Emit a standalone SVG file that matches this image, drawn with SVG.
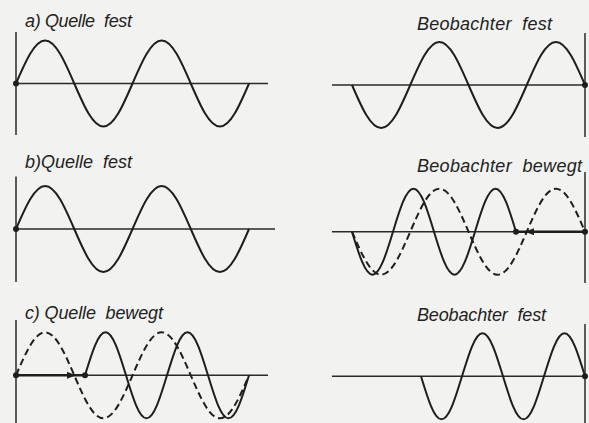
<svg xmlns="http://www.w3.org/2000/svg" width="589" height="423" viewBox="0 0 589 423">
<defs>
<style>
.bg{fill:#f2f2f0}
.ax{stroke:#2a2a2a;stroke-width:1.5;fill:none}
.w{stroke:#1e1e1e;stroke-width:2;fill:none;stroke-linejoin:round}
.d{stroke:#1e1e1e;stroke-width:2;fill:none;stroke-dasharray:7 4}
.dot{fill:#1e1e1e}
.mv{stroke:#1e1e1e;stroke-width:2.4;fill:none;marker-mid:url(#ah)}
.lb{font-family:"Liberation Sans","DejaVu Sans",sans-serif;font-style:italic;font-size:18px;fill:#222}
</style>
<marker id="ah" viewBox="0 0 9 7" refX="8" refY="3.5" markerWidth="9" markerHeight="7" markerUnits="userSpaceOnUse" orient="auto">
<path d="M0,0 L9,3.5 L0,7 z" fill="#1e1e1e"/>
</marker>
</defs>
<rect class="bg" x="0" y="0" width="589" height="423"/>

<g id="panel-a-source">
<text class="lb" x="25" y="27" textLength="107" lengthAdjust="spacing" xml:space="preserve">a) Quelle  fest</text>
<line class="ax" x1="16" y1="32" x2="16" y2="135"/>
<line class="ax" x1="16" y1="83.5" x2="268" y2="83.5"/>
<path class="w" d="M16,83.5 c9.5,-22.03 18.59,-43 29.13,-43 c10.54,0 19.63,20.97 29.13,43 c9.5,22.03 18.59,43 29.13,43 c10.54,0 19.63,-20.97 29.13,-43 c9.5,-22.03 18.59,-43 29.13,-43 c10.54,0 19.63,20.97 29.13,43 c9.5,22.03 18.59,43 29.13,43 c10.54,0 19.63,-20.97 29.13,-43"/>
<circle class="dot" cx="16" cy="83.5" r="3"/>
</g>

<g id="panel-a-observer">
<text class="lb" x="417" y="29.5" textLength="135" lengthAdjust="spacing" xml:space="preserve">Beobachter  fest</text>
<line class="ax" x1="585" y1="33" x2="585" y2="137"/>
<line class="ax" x1="332" y1="85" x2="585" y2="85"/>
<path class="w" d="M352,85 c9.5,22.03 18.59,43 29.13,43 c10.54,0 19.63,-20.97 29.13,-43 c9.5,-22.03 18.59,-43 29.13,-43 c10.54,0 19.63,20.97 29.13,43 c9.5,22.03 18.59,43 29.13,43 c10.54,0 19.63,-20.97 29.13,-43 c9.5,-22.03 18.59,-43 29.13,-43 c10.54,0 19.63,20.97 29.13,43"/>
<circle class="dot" cx="585" cy="85" r="3"/>
</g>

<g id="panel-b-source">
<text class="lb" x="25" y="168" textLength="107" lengthAdjust="spacing" xml:space="preserve">b)Quelle  fest</text>
<line class="ax" x1="16" y1="176.5" x2="16" y2="282"/>
<line class="ax" x1="16" y1="229" x2="275" y2="229"/>
<path class="w" d="M16,229 c9.5,-22.03 18.59,-43 29.13,-43 c10.54,0 19.63,20.97 29.13,43 c9.5,22.03 18.59,43 29.13,43 c10.54,0 19.63,-20.97 29.13,-43 c9.5,-22.03 18.59,-43 29.13,-43 c10.54,0 19.63,20.97 29.13,43 c9.5,22.03 18.59,43 29.13,43 c10.54,0 19.63,-20.97 29.13,-43"/>
<circle class="dot" cx="16" cy="229" r="3"/>
</g>

<g id="panel-b-observer">
<text class="lb" x="417" y="171.5" textLength="165" lengthAdjust="spacing" xml:space="preserve">Beobachter  bewegt</text>
<line class="ax" x1="585" y1="172" x2="585" y2="283"/>
<line class="ax" x1="332" y1="231.7" x2="585" y2="231.7"/>
<path class="d" d="M352,231.7 c9.5,22.03 18.59,43 29.13,43 c10.54,0 19.63,-20.97 29.13,-43 c9.5,-22.03 18.59,-43 29.13,-43 c10.54,0 19.63,20.97 29.13,43 c9.5,22.03 18.59,43 29.13,43 c10.54,0 19.63,-20.97 29.13,-43 c9.5,-22.03 18.59,-43 29.13,-43 c10.54,0 19.63,20.97 29.13,43"/>
<path class="w" d="M352,231.7 c6.69,22.03 13.08,43 20.5,43 c7.42,0 13.82,-20.97 20.5,-43 c6.69,-22.03 13.08,-43 20.5,-43 c7.42,0 13.82,20.97 20.5,43 c6.69,22.03 13.08,43 20.5,43 c7.42,0 13.82,-20.97 20.5,-43 c6.69,-22.03 13.08,-43 20.5,-43 c7.42,0 13.820,20.97 20.5,43"/>
<circle class="dot" cx="516" cy="231.7" r="3"/>
<circle class="dot" cx="585" cy="231.7" r="3"/>
</g>

<g id="panel-c-source">
<text class="lb" x="25" y="319" textLength="138" lengthAdjust="spacing" xml:space="preserve">c) Quelle  bewegt</text>
<line class="ax" x1="16" y1="320" x2="16" y2="423"/>
<line class="ax" x1="16" y1="375.3" x2="268" y2="375.3"/>
<path class="d" d="M16,375.3 c9.5,-22.03 18.59,-43 29.13,-43 c10.54,0 19.63,20.97 29.13,43 c9.5,22.03 18.59,43 29.13,43 c10.54,0 19.63,-20.97 29.13,-43 c9.5,-22.03 18.59,-43 29.13,-43 c10.54,0 19.63,20.97 29.13,43 c9.5,22.03 18.59,43 29.13,43 c10.54,0 19.63,-20.97 29.13,-43"/>
<path class="w" d="M85,375.3 c6.69,-22.03 13.08,-43 20.5,-43 c7.42,0 13.82,20.97 20.5,43 c6.69,22.03 13.08,43 20.5,43 c7.42,0 13.82,-20.97 20.5,-43 c6.69,-22.03 13.08,-43 20.5,-43 c7.42,0 13.82,20.97 20.5,43 c6.69,22.03 13.08,43 20.5,43 c7.42,0 13.82,-20.97 20.5,-43"/>
<circle class="dot" cx="16" cy="375.3" r="3"/>
<circle class="dot" cx="85" cy="375.3" r="3"/>
</g>

<g id="panel-c-observer">
<text class="lb" x="417" y="321" textLength="129" lengthAdjust="spacing" xml:space="preserve">Beobachter  fest</text>
<line class="ax" x1="585" y1="324" x2="585" y2="423"/>
<line class="ax" x1="332" y1="376.3" x2="585" y2="376.3"/>
<path class="w" d="M421,376.3 c6.69,22.03 13.08,43 20.5,43 c7.42,0 13.82,-20.97 20.5,-43 c6.69,-22.03 13.08,-43 20.5,-43 c7.42,0 13.82,20.97 20.5,43 c6.69,22.03 13.08,43 20.5,43 c7.42,0 13.82,-20.97 20.5,-43 c6.69,-22.03 13.08,-43 20.5,-43 c7.42,0 13.82,20.97 20.5,43"/>
<circle class="dot" cx="585" cy="376.3" r="3"/>
</g>

<g id="connectors">
<polyline class="mv" points="585,231.7 526,231.7 516,231.7"/>
<polyline class="mv" points="16,375.3 75,375.3 85,375.3"/>
</g>
</svg>
